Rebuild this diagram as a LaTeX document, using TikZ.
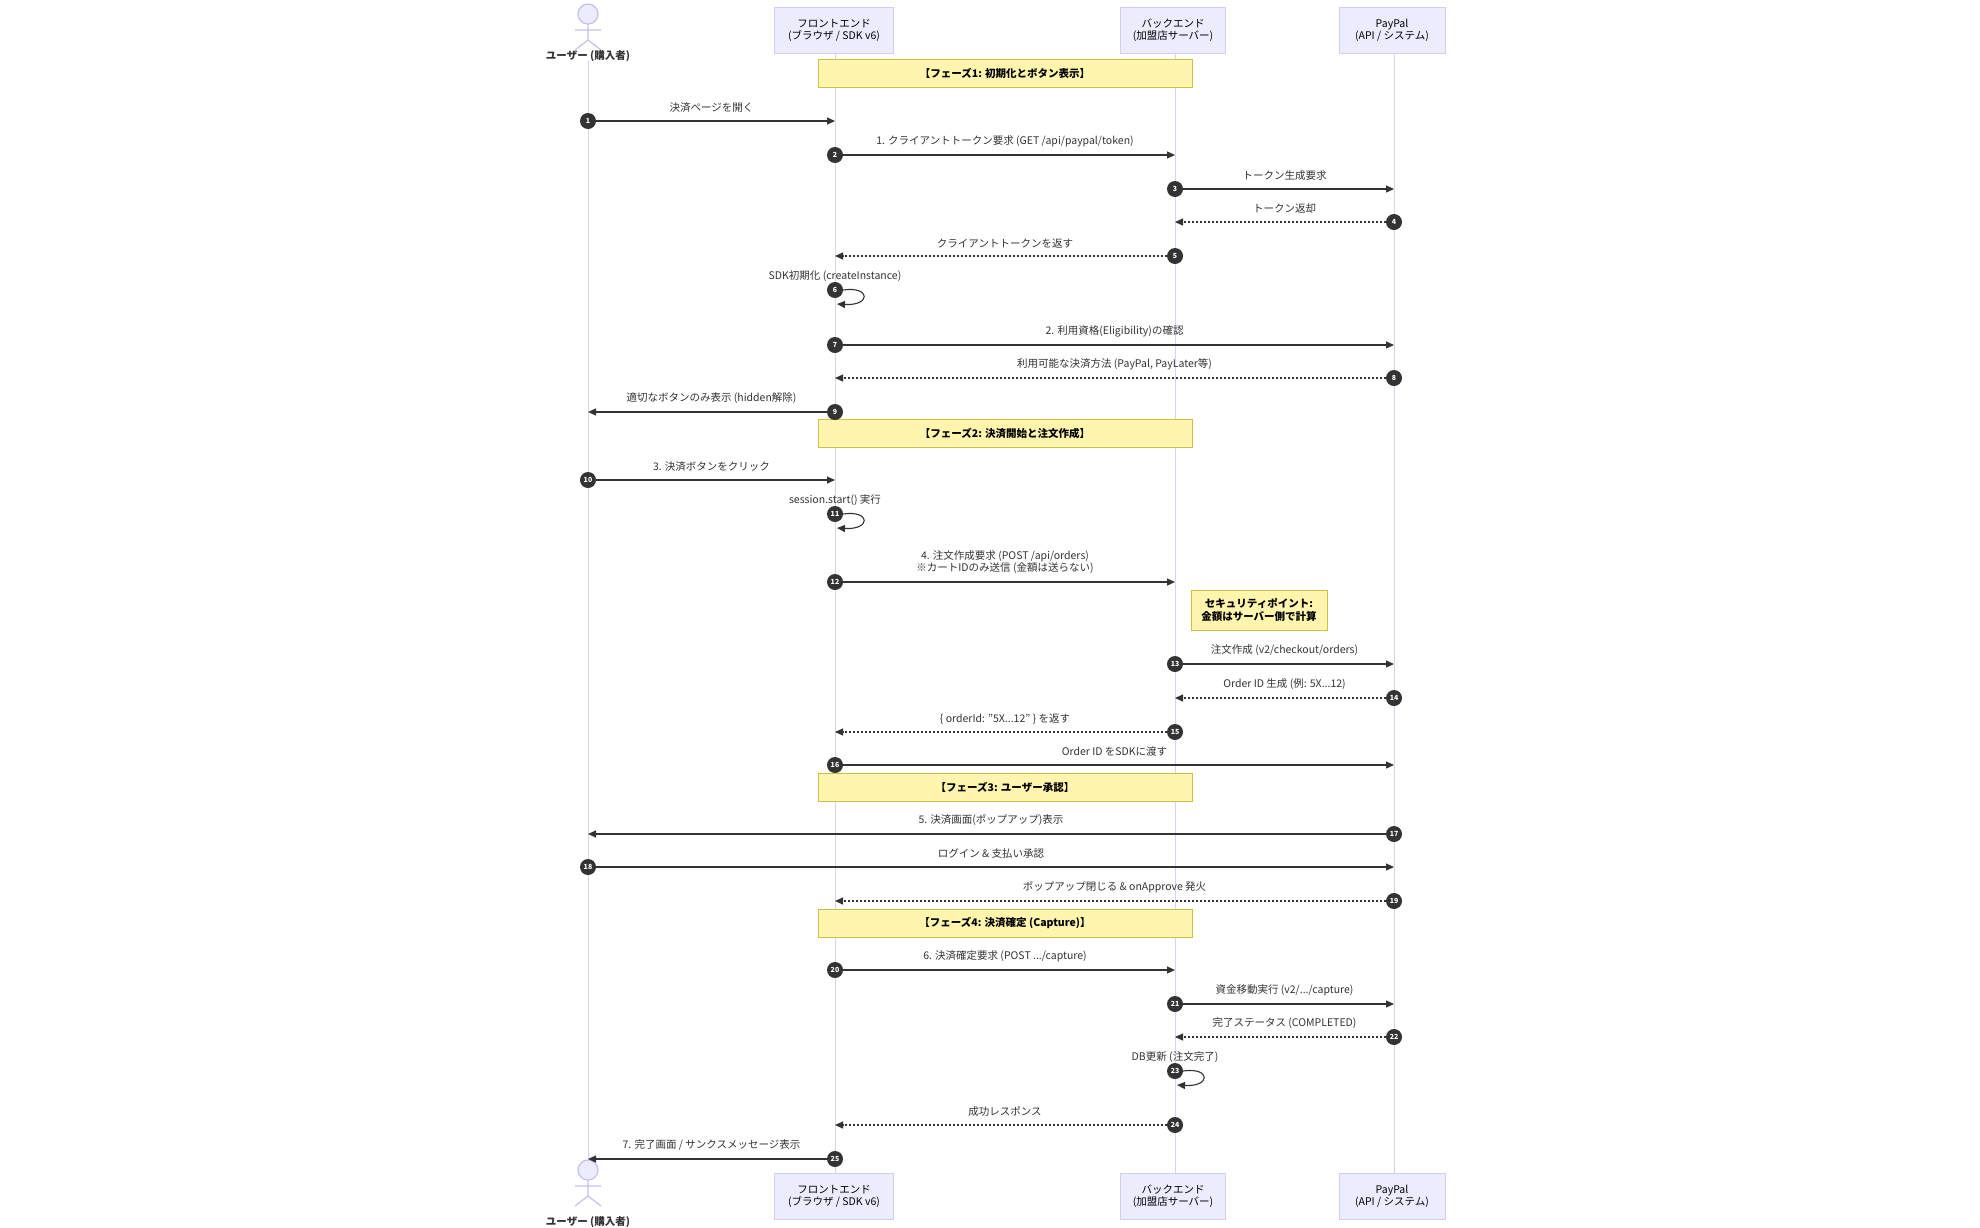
\documentclass[tikz,border=0pt]{standalone}
\usepackage{fontspec}
\setmainfont{Noto Sans CJK JP}
\usetikzlibrary{arrows.meta}
\definecolor{life}{HTML}{D6D2F2}
\definecolor{boxf}{HTML}{ECECFF}
\definecolor{boxd}{HTML}{CFCFF5}
\definecolor{actd}{HTML}{C8BEF0}
\definecolor{phf}{HTML}{FFF5AD}
\definecolor{phd}{HTML}{C8C24A}
\definecolor{ink}{HTML}{333333}
\begin{document}
\begin{tikzpicture}[x=1pt,y=-1pt,
 part/.style={draw=boxd,fill=boxf,minimum width=#1,minimum height=46,align=center,font=\fontsize{10.5}{12}\selectfont,inner sep=0},
 phase/.style={draw=phd,fill=phf,minimum width=374,minimum height=28,font=\fontsize{10.5}{12}\selectfont\bfseries,inner sep=0},
 lab/.style={font=\fontsize{10.5}{12.5}\selectfont,text=ink,align=center,inner sep=1},
 num/.style={circle,fill=ink,text=white,font=\fontsize{7}{7}\selectfont\bfseries,minimum size=16,inner sep=0},
 msg/.style={draw=ink,line width=1.1pt,-{Triangle[length=8,width=7]}},
 ret/.style={msg,dash pattern=on 2pt off 2pt},
 life/.style={draw=life,line width=1pt},
 actor/.style={draw=actd,line width=1.2pt}]
\useasboundingbox (0,0) rectangle (1980,1227);
\fill[white] (0,0) rectangle (1980,1227);
% lifelines
\coordinate (ut) at (588,60); \coordinate (ub) at (588,1168);
\draw[life] (ut) -- (ub);
\foreach \n/\x in {F/835,B/1175,P/1394}{
 \coordinate (\n t) at (\x,53); \coordinate (\n b) at (\x,1173);
 \draw[life] (\n t) -- (\n b);}
% participants
\node[part=119] (F1) at (834,30) {フロントエンド\\(ブラウザ / SDK v6)};
\node[part=105] (B1) at (1173,30) {バックエンド\\(加盟店サーバー)};
\node[part=106] (P1) at (1392,30) {PayPal\\(API / システム)};
\node[part=119] (F2) at (834,1196) {フロントエンド\\(ブラウザ / SDK v6)};
\node[part=105] (B2) at (1173,1196) {バックエンド\\(加盟店サーバー)};
\node[part=106] (P2) at (1392,1196) {PayPal\\(API / システム)};
% actors
\foreach \y/\nm in {0/UA1,1156/UA2}{
 \begin{scope}[yshift=-\y]
 \draw[actor,fill=boxf] (588,14) circle (10);
 \draw[actor] (588,24) -- (588,40) (575,30) -- (601,30) (575,50) -- (588,40) -- (601,50);
 \end{scope}}
\node[lab,font=\fontsize{10.5}{12}\selectfont\bfseries] (UL1) at (588,56) {ユーザー (購入者)};
\node[lab,font=\fontsize{10.5}{12}\selectfont\bfseries] (UL2) at (588,1222) {ユーザー (購入者)};
% phases
\node[phase] (ph1) at (1005,73) {【フェーズ1: 初期化とボタン表示】};
\node[phase] (ph2) at (1005,433) {【フェーズ2: 決済開始と注文作成】};
\node[phase] (ph3) at (1005,787) {【フェーズ3: ユーザー承認】};
\node[phase] (ph4) at (1005,923) {【フェーズ4: 決済確定 (Capture)】};
\node[draw=phd,fill=phf,minimum width=136,minimum height=40,align=center,font=\fontsize{10.5}{13}\selectfont\bfseries,inner sep=0] (note) at (1259,610) {セキュリティポイント:\\金額はサーバー側で計算};
% messages: \m{num}{fromx}{tox}{y}{style}{label}
\newcommand{\msgline}[6]{%
 \node[num] (n#1) at (#2,#4) {#1};
 \coordinate (e#1) at (#3,#4);
 \draw[#5] (n#1) -- (e#1);
 \node[lab,anchor=south] (l#1) at ({(#2+#3)/2},#4-7) {#6};}
\newcommand{\selfmsg}[4]{%
 \node[num] (n#1) at (#2,#3) {#1};
 \coordinate (e#1) at (#2+2,#3+14);
 \draw[msg] (n#1.east) .. controls (#2+36,#3-4) and (#2+36,#3+16) .. (e#1);
 \node[lab,anchor=south] (l#1) at (#2,#3-7) {#4};}
\msgline{1}{588}{835}{121}{msg}{決済ページを開く}
\msgline{2}{835}{1175}{155}{msg}{1. クライアントトークン要求 (GET /api/paypal/token)}
\msgline{3}{1175}{1394}{189}{msg}{トークン生成要求}
\msgline{4}{1394}{1175}{222}{ret}{トークン返却}
\msgline{5}{1175}{835}{256}{ret}{クライアントトークンを返す}
\selfmsg{6}{835}{290}{SDK初期化 (createInstance)}
\msgline{7}{835}{1394}{345}{msg}{2. 利用資格(Eligibility)の確認}
\msgline{8}{1394}{835}{378}{ret}{利用可能な決済方法 (PayPal, PayLater等)}
\msgline{9}{835}{588}{412}{msg}{適切なボタンのみ表示 (hidden解除)}
\msgline{10}{588}{835}{480}{msg}{3. 決済ボタンをクリック}
\selfmsg{11}{835}{514}{session.start() 実行}
\msgline{12}{835}{1175}{582}{msg}{4. 注文作成要求 (POST /api/orders)\\※カートIDのみ送信 (金額は送らない)}
\msgline{13}{1175}{1394}{664}{msg}{注文作成 (v2/checkout/orders)}
\msgline{14}{1394}{1175}{698}{ret}{Order ID 生成 (例: 5X...12)}
\msgline{15}{1175}{835}{732}{ret}{\{ orderId: "5X...12" \} を返す}
\msgline{16}{835}{1394}{765}{msg}{Order ID をSDKに渡す}
\msgline{17}{1394}{588}{834}{msg}{5. 決済画面(ポップアップ)表示}
\msgline{18}{588}{1394}{867}{msg}{ログイン \& 支払い承認}
\msgline{19}{1394}{835}{901}{ret}{ポップアップ閉じる \& onApprove 発火}
\msgline{20}{835}{1175}{970}{msg}{6. 決済確定要求 (POST .../capture)}
\msgline{21}{1175}{1394}{1004}{msg}{資金移動実行 (v2/.../capture)}
\msgline{22}{1394}{1175}{1037}{ret}{完了ステータス (COMPLETED)}
\selfmsg{23}{1175}{1071}{DB更新 (注文完了)}
\msgline{24}{1175}{835}{1125}{ret}{成功レスポンス}
\msgline{25}{835}{588}{1159}{msg}{7. 完了画面 / サンクスメッセージ表示}
\end{tikzpicture}
\end{document}
